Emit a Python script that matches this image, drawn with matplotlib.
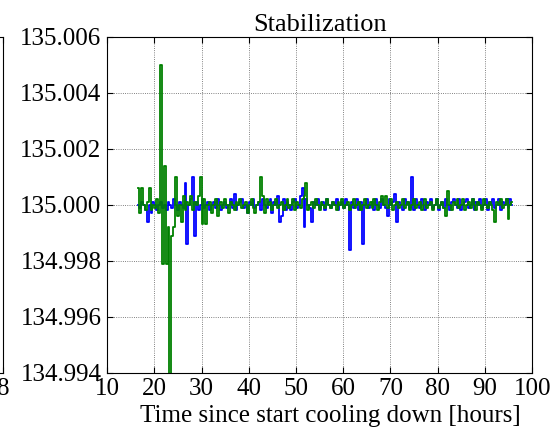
import numpy as np
import matplotlib
matplotlib.use("Agg")
import matplotlib.pyplot as plt

# time axis: samples every 0.4 h starting at 16.6 h
t_start = 16.6
t_step = 0.4

# deviations from 135.000 in units of 1e-4
blue_dev = [
    0, -1, 1, 0, -2, -6, 0, -3, 1, 0,
    -2, 0, 1, -1, 0, -2, 1, 0, -1, 2,
    0, -2, 1, 0, -1, 8, -14, 0, 2, 10,
    -11, 1, -2, 0, 2, -1, 0, 1, -2, 0,
    1, -1, 2, 0, -2, 0, 1, -1, 0, 2,
    -1, 4, -2, 0, 1, 2, -1, 0, -3, 1,
    0, 2, -1, 0, 1, -2, 2, 0, -1, 1,
    2, -3, 1, 0, 3, -6, -4, 2, -2, 1,
    0, -2, 1, 2, -1, 0, 3, 6, -8, 2,
    0, -1, -6, 1, 0, 2, -1, 0, 1, -2,
    2, 0, -1, 1, 0, 2, -2, 0, 1, -1,
    2, 0, -16, 1, -1, 0, 2, -2, 1, -14,
    0, 2, -1, 0, 1, -2, 2, 0, -1, 2,
    0, -1, -4, 2, 0, 1, 4, -6, 1, 0,
    -2, 2, 0, 1, -1, 10, -2, 2, 0, -1,
    2, 0, -2, 1, 0, 2, -1, 0, 2, -2,
    0, 1, -1, 2, 0, -2, 1, 2, 0, -1,
    2, -2, 0, 1, 2, -1, 0, 2, -2, 1,
    0, 2, -1, 0, 2, -2, 1, 0, 2, -1,
    0, 2, -2, 1, 0, 2, -1, 2, 0,
]

green_dev = [
    6, -3, 6, 0, -2, 1, 6, -2, 0, -1,
    2, -3, 50, -21, 14, -21, -8, -70, -11, -8,
    10, -4, 0, -6, 3, -2, 1, 0, 3, -2,
    1, 0, 3, 10, -7, 2, -7, 0, 1, -3,
    0, 2, -4, 0, 1, -1, 2, 0, -3, 1,
    0, -2, 1, 0, 2, -1, 0, 1, -3, 0,
    2, -1, -3, 0, 1, 10, 3, -3, 2, 0,
    1, -2, 0, 2, -1, 0, 1, -2, 0, 2,
    -1, 0, 2, -2, 1, 0, -1, 2, 3, 8,
    -2, 0, 1, -1, 2, 0, -2, 1, 0, -1,
    2, 0, -1, 1, 0, -2, 1, 0, 2, -1,
    0, 1, -2, 0, 2, -1, 0, 1, -2, 0,
    2, -1, 0, 1, -1, 2, 0, -2, 1, 3,
    0, 3, -1, 0, 2, -2, 0, 1, -1, 0,
    2, -1, 0, 1, -2, 0, 2, -1, 0, 1,
    -2, 0, 2, -1, 0, 1, -2, 0, 2, -1,
    0, 1, -1, -4, 5, 0, -2, 1, 0, 2,
    -1, 0, 2, -2, 0, 1, -1, 2, 0, -2,
    1, 0, -2, 2, 0, -1, 1, 0, -2, -6,
    1, 0, 2, -1, 0, 2, -5, 0, 1,
]

setpoint = 135.0
yticks = [134.994, 134.996, 134.998, 135.000, 135.002, 135.004, 135.006]
xticks = [10, 20, 30, 40, 50, 60, 70, 80, 90, 100]

plt.rcParams['font.family'] = ['Liberation Serif', 'DejaVu Serif']
fs = 18

t = t_start + t_step * np.arange(len(blue_dev))
blue = setpoint + np.array(blue_dev) * 1e-4
green = setpoint + np.array(green_dev) * 1e-4

fig = plt.figure(figsize=(5.52, 4.3), dpi=100)
ax = fig.add_axes([0.194, 0.133, 0.770, 0.781])

ax.plot(t, blue, color='b', lw=1.3, drawstyle='steps-mid')
ax.plot(t, green, color='g', lw=1.3, drawstyle='steps-mid')

ax.set_xlim(10, 100)
ax.set_ylim(134.994, 135.006)
ax.set_xticks(xticks)
ax.set_yticks(yticks)
ax.set_yticklabels(["%.3f" % v for v in yticks])
ax.grid(True, color='0.35', ls=':', lw=0.6)
ax.tick_params(direction='in', top=True, right=True, labelsize=fs, length=4, pad=4)
ax.set_title("Stabilization", fontsize=fs + 1, pad=4)
ax.set_xlabel("Time since start cooling down [hours]", fontsize=fs)
ax.xaxis.set_label_coords(0.525, -0.097)

# neighbouring panel, mostly cut off on the left
ax0 = fig.add_axes([-0.5, 0.133, 0.5054, 0.781])
ax0.set_xlim(0, 8)
ax0.set_xticks([8])
ax0.set_yticks([])
ax0.tick_params(direction='in', top=True, labelsize=fs, length=4, pad=4)

fig.savefig("out.png", dpi=100)
